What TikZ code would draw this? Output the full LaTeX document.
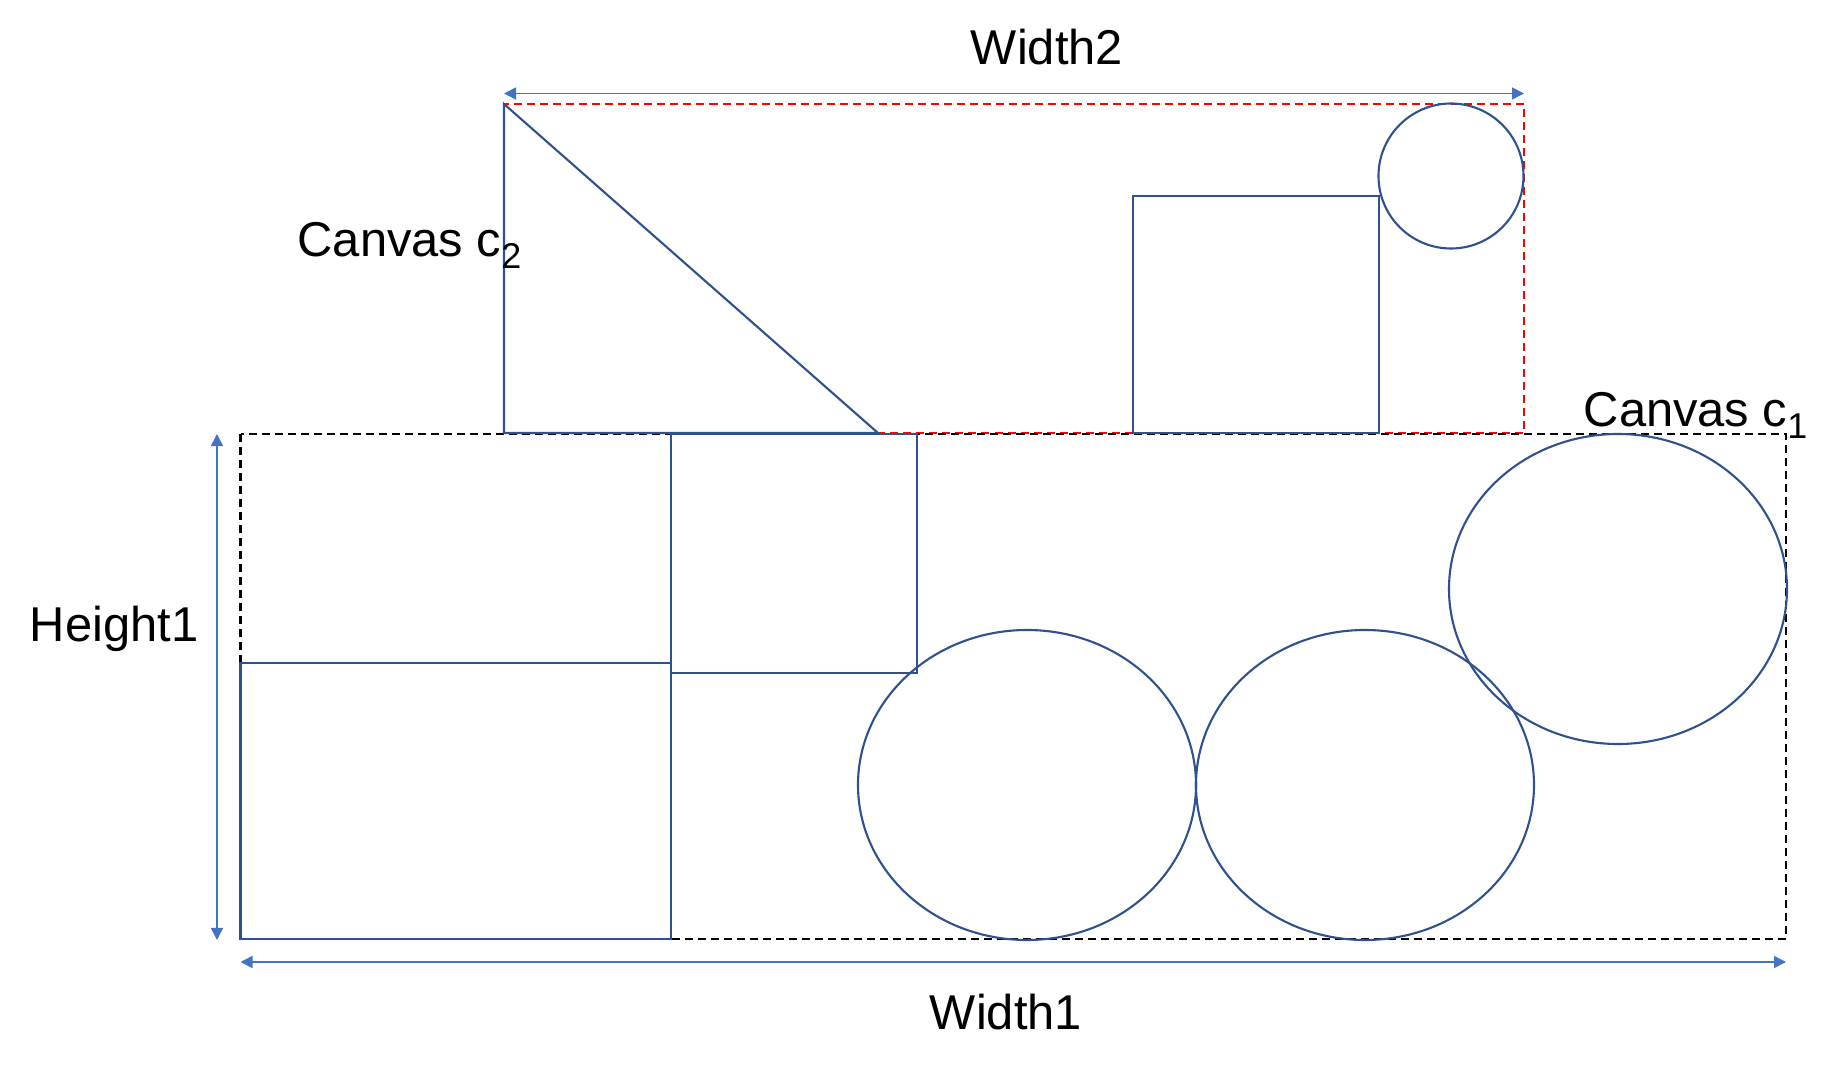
\documentclass[tikz,border=0pt]{standalone}
\usepackage{fontspec}
\setmainfont{Liberation Sans}
\usetikzlibrary{arrows.meta}
\usepackage{xcolor}
\definecolor{shapeblue}{RGB}{47, 82, 143}
\definecolor{dimblue}{RGB}{68, 114, 196}
\definecolor{cred}{RGB}{255, 0, 0}
\newcommand{\csub}[1]{\raisebox{-3.2pt}{\fontsize{10.2}{11}\selectfont #1}}

\begin{document}
\begin{tikzpicture}[x=0.01cm, y=-0.01cm,
  shp/.style={draw=shapeblue, line width=0.6pt},
  canvasa/.style={draw=black, line width=0.6pt, dash pattern=on 0.08cm off 0.05cm},
  canvasb/.style={draw=cred, line width=0.6pt, dash pattern=on 0.08cm off 0.05cm},
  dim/.style={dimblue, line width=0.45pt,
              {Triangle[length=1.2mm, width=1.2mm]}-{Triangle[length=1.2mm, width=1.2mm]}},
  lbl/.style={inner sep=0pt, font=\fontsize{13.9}{16}\selectfont, text=black}
]
\useasboundingbox (0,0) rectangle (1829,1070);

% canvas corners
\coordinate (c1nw) at (240.5,434);
\coordinate (c1se) at (1786,939);
\coordinate (c2nw) at (504,104);
\coordinate (c2se) at (1524,433);

\draw[canvasb] (c2nw) rectangle (c2se);
\draw[canvasa] (c1nw) rectangle (c1se);

% shapes on canvas c2
\draw[shp] (c2nw) -- (504,433) -- (878,433) -- cycle;
\draw[shp] (1133,196) rectangle (1379,433);
\draw[shp] (1451,176) circle[radius=72.5];

% shapes on canvas c1
\draw[shp] (240.5,663) rectangle (671,939);
\draw[shp] (671,434) rectangle (917,673);
\draw[shp] (1027,785) ellipse[x radius=169, y radius=155];
\draw[shp] (1365,785) ellipse[x radius=169, y radius=155];
\draw[shp] (1618,589) ellipse[x radius=169, y radius=155];

% dimension arrows
\coordinate (w2a) at (504,93.5);
\coordinate (w2b) at (1524,93.5);
\coordinate (h1a) at (217,434);
\coordinate (h1b) at (217,940);
\coordinate (w1a) at (240.5,962);
\coordinate (w1b) at (1786,962);
\draw[dim] (w2a) -- (w2b);
\draw[dim] (h1a) -- (h1b);
\draw[dim] (w1a) -- (w1b);

\node[lbl, anchor=base] (w2lbl) at (1047,65) {Width2};
\node[lbl, anchor=base] (w1lbl) at (1006,1029) {Width1};
\node[lbl, anchor=base] (h1lbl) at (114,642) {Height1};
\node[lbl, anchor=base west] (c2lbl) at (297,257) {Canvas c\csub{2}};
\node[lbl, anchor=base west] (c1lbl) at (1583,427) {Canvas c\csub{1}};

\end{tikzpicture}
\end{document}
